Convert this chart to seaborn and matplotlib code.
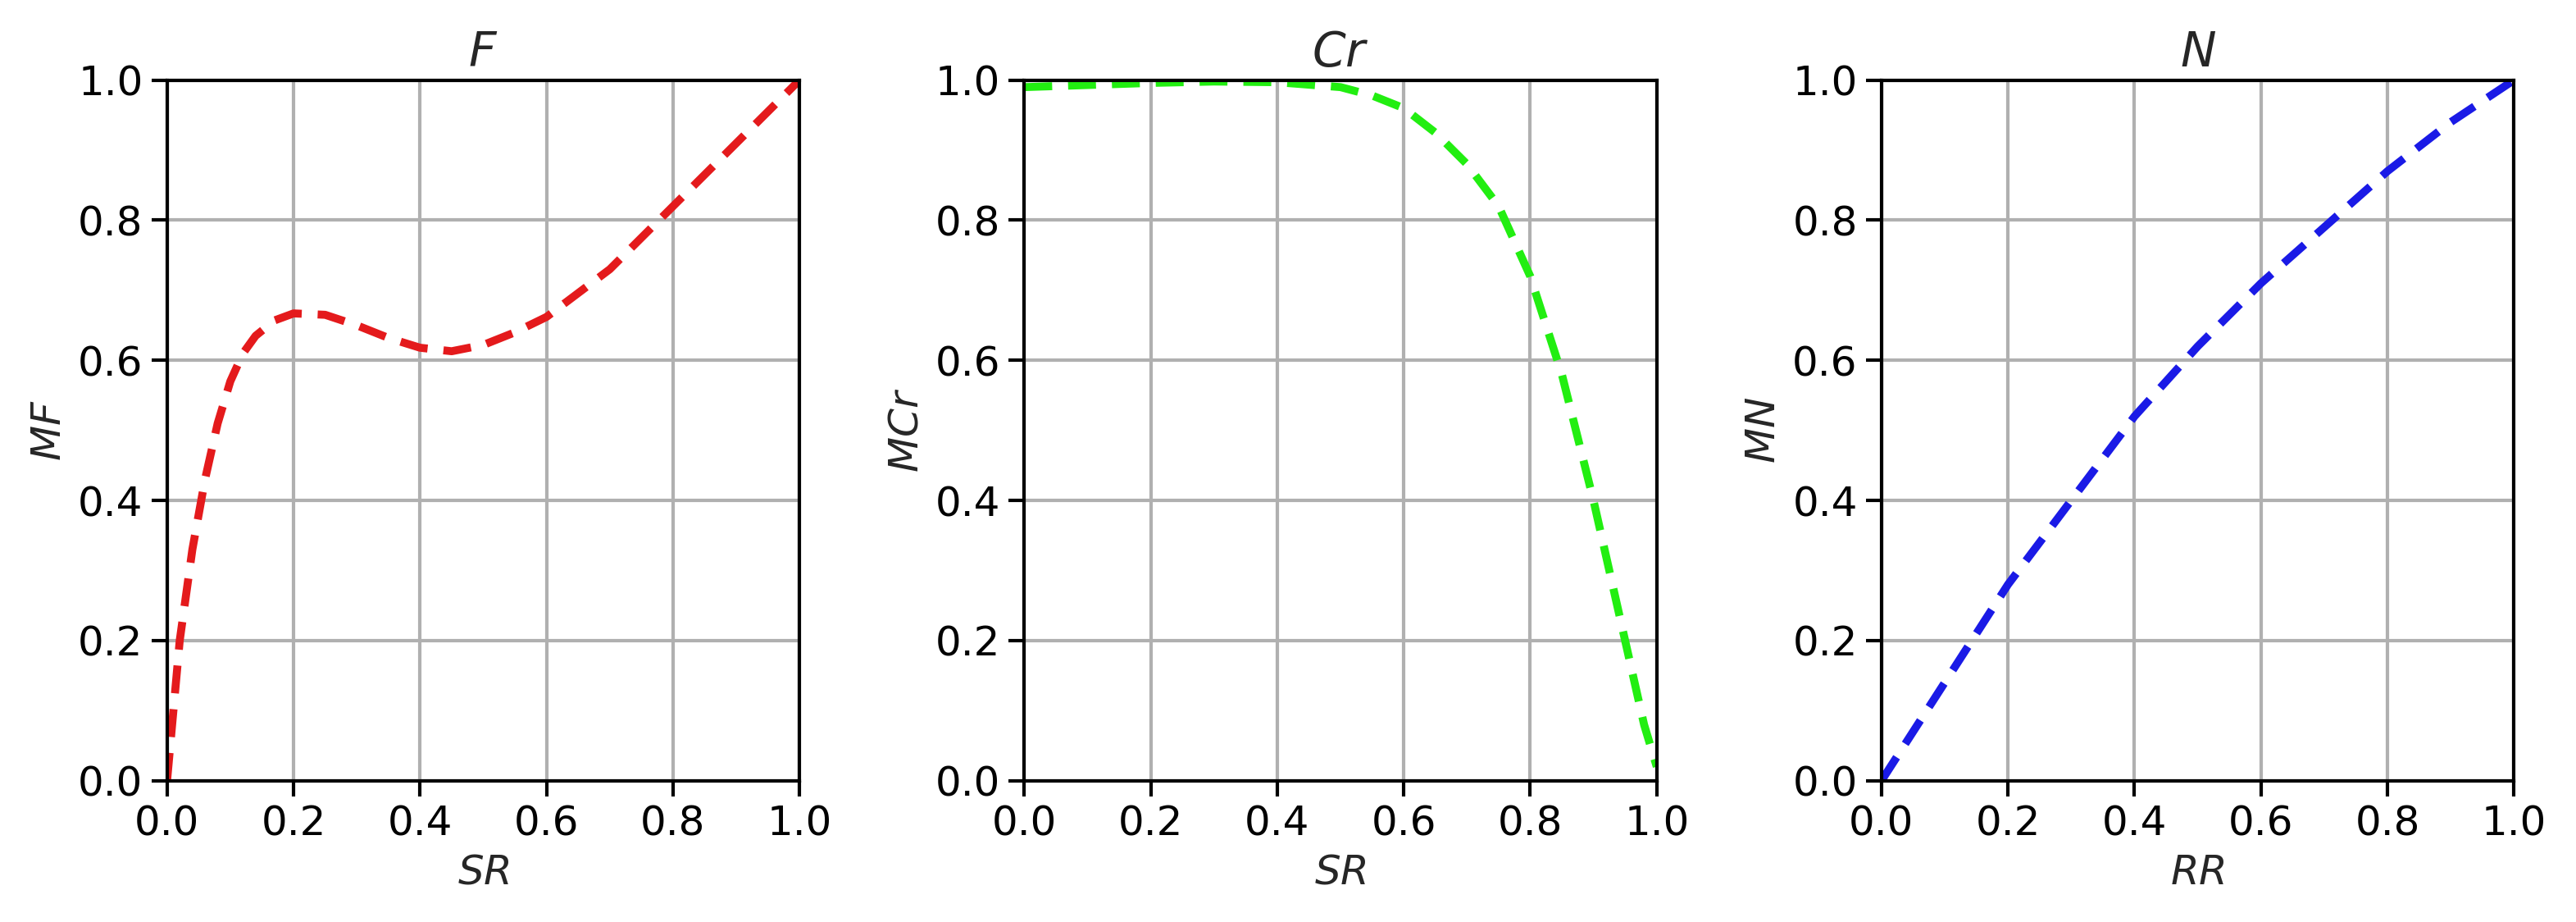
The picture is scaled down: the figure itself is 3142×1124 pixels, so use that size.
import numpy as np
import pandas as pd
import seaborn as sns
import matplotlib
matplotlib.use('Agg')
import matplotlib.pyplot as plt

# curves
f_x = [0, 0.02, 0.04, 0.06, 0.08, 0.1, 0.12, 0.14, 0.17, 0.2, 0.25, 0.3, 0.35, 0.4, 0.45, 0.5, 0.55, 0.6, 0.7, 0.8, 0.9, 1.0]
f_y = [0, 0.2, 0.33, 0.43, 0.51, 0.57, 0.61, 0.635, 0.657, 0.667, 0.665, 0.65, 0.632, 0.618, 0.613, 0.622, 0.64, 0.662, 0.73, 0.82, 0.91, 1.0]

cr_x = [0, 0.1, 0.2, 0.3, 0.4, 0.5, 0.55, 0.6, 0.65, 0.7, 0.75, 0.8, 0.85, 0.9, 0.93, 0.95, 0.98, 1.0]
cr_y = [0.99, 0.993, 0.996, 0.998, 0.997, 0.99, 0.978, 0.96, 0.925, 0.88, 0.82, 0.72, 0.58, 0.40, 0.28, 0.2, 0.08, 0.02]

n_x = [0, 0.1, 0.2, 0.3, 0.4, 0.5, 0.6, 0.7, 0.8, 0.9, 1.0]
n_y = [0, 0.14, 0.28, 0.40, 0.52, 0.62, 0.71, 0.79, 0.87, 0.94, 1.0]

sns.set_theme(style='ticks')
plt.rcParams['font.family'] = ['DejaVu Sans']
plt.rcParams['mathtext.fontset'] = 'dejavusans'

fig, axes = plt.subplots(1, 3, figsize=(15.71, 5.62), dpi=200)

panels = [
    (f_x, f_y, '#e41a1c', '$F$', '$SR$', '$MF$'),
    (cr_x, cr_y, '#22ee11', '$Cr$', '$SR$', '$MCr$'),
    (n_x, n_y, '#1a1ae6', '$N$', '$RR$', '$MN$'),
]

for ax, (xs, ys, col, title, xl, yl) in zip(axes, panels):
    df = pd.DataFrame({'x': xs, 'y': ys})
    sns.lineplot(data=df, x='x', y='y', ax=ax, color=col, linewidth=3.5)
    ax.lines[0].set_linestyle((0, (3.5, 2)))
    ax.set_xlim(0, 1)
    ax.set_ylim(0, 1)
    ax.set_xticks(np.arange(0, 1.01, 0.2))
    ax.set_yticks(np.arange(0, 1.01, 0.2))
    ax.grid(True, color='#b0b0b0', linewidth=1.5)
    ax.set_title(title, fontsize=21)
    ax.set_xlabel(xl, fontsize=18)
    ax.set_ylabel(yl, fontsize=18)
    ax.tick_params(labelsize=18, width=1.5, length=7, colors='black')
    for s in ax.spines.values():
        s.set_linewidth(1.5)
        s.set_color('black')

plt.tight_layout(w_pad=2.0)
plt.savefig('out.png', dpi=200)
